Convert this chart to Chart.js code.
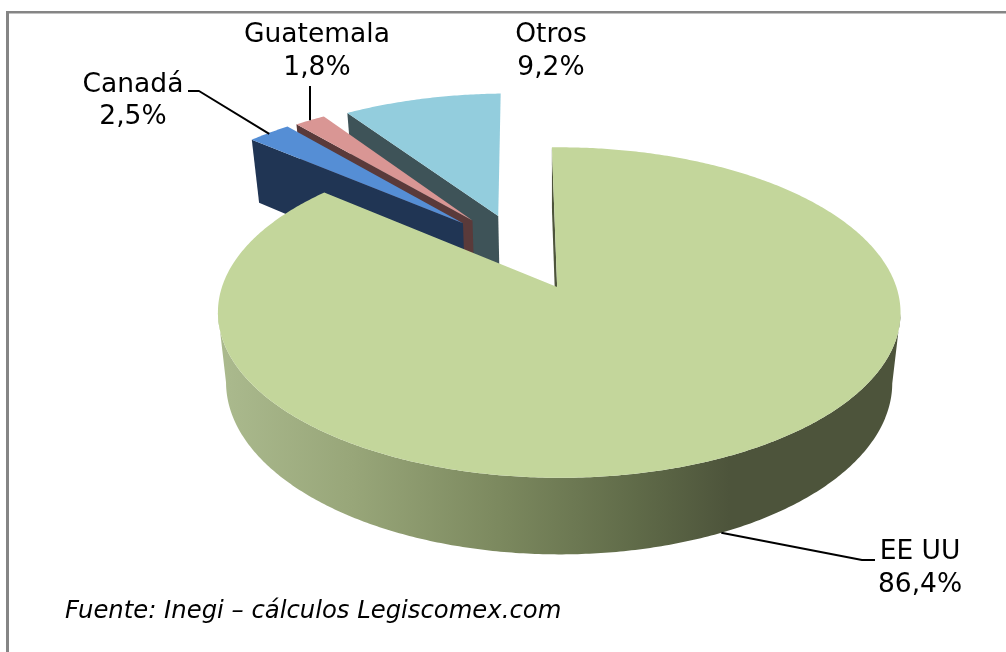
<!DOCTYPE html>
<html>
<head>
<meta charset="utf-8">
<style>html,body{margin:0;padding:0;background:#fff}canvas{display:block}</style>
<script src="https://cdn.jsdelivr.net/npm/chart.js@4"></script>
</head>
<body>
<canvas id="c" width="1006" height="652"></canvas>
<script>
const categories = ['EE UU', 'Canadá', 'Guatemala', 'Otros'];
const shares = [86.4, 2.5, 1.8, 9.2];
const shareLabels = ['86,4%', '2,5%', '1,8%', '9,2%'];
const sourceNote = 'Fuente: Inegi – cálculos Legiscomex.com';

const topColors = ['#C3D69B', '#558ED5', '#D99694', '#93CDDD'];
const wallColors = ['#4D543B', '#203554', '#5A3A3A', '#3E5358'];
const explosion = [26.5, 26, 25.5, 24.5];

// perspective of the tilted disc
const view = {cx: 556, cy: 288, a: 337.5, b: 161.6, p: 0.154, q: 0.006, cu: -0.11, cv: -0.245,
               sx: 0.976, sy: 1.04, depth: 69};
function project(U, V) {
  const u = U + view.cu, v = V + view.cv, w = 1 - view.p * v - view.q * u;
  return {x: view.cx + view.a * u / w, y: view.cy + view.b * v / w};
}
function drop(pt) {
  return {x: view.cx + (pt.x - view.cx) * view.sx,
          y: view.cy + view.depth + (pt.y - view.cy) * view.sy};
}
function slicePoints(el) {
  const off = el.options.offset / 100, mid = (el.startAngle + el.endAngle) / 2;
  const ox = off * Math.cos(mid), oy = off * Math.sin(mid);
  const n = Math.max(4, Math.ceil((el.endAngle - el.startAngle) / 0.01));
  const arc = [];
  for (let i = 0; i <= n; i++) {
    const t = el.startAngle + (el.endAngle - el.startAngle) * i / n;
    arc.push(project(ox + Math.cos(t), oy + Math.sin(t)));
  }
  return {apex: project(ox, oy), arc,
          midArc: project(ox + Math.cos(mid), oy + Math.sin(mid))};
}
function poly(ctx, pts, fill) {
  ctx.beginPath();
  pts.forEach((p, i) => i ? ctx.lineTo(p.x, p.y) : ctx.moveTo(p.x, p.y));
  ctx.closePath();
  ctx.fillStyle = fill;
  ctx.fill();
}
function wallQuad(ctx, a, b, fill) {
  poly(ctx, [a, b, drop(b), drop(a)], fill);
}
// front of the rim: the stretch of arc between its rightmost and leftmost points
function frontRim(arc) {
  let r = 0, l = 0;
  arc.forEach((p, i) => { if (p.x > arc[r].x) r = i; if (p.x < arc[l].x) l = i; });
  const seg = arc.slice(Math.min(r, l), Math.max(r, l) + 1);
  return [...seg, ...seg.map(drop).reverse()];
}

const pie3d = {
  id: 'pie3d',
  beforeDraw(chart) {
    const ctx = chart.ctx;
    ctx.save();
    ctx.fillStyle = '#fff';
    ctx.fillRect(0, 0, chart.width, chart.height);
    ctx.fillStyle = '#858585';
    ctx.fillRect(6, 11, 3, chart.height - 11);
    ctx.fillRect(6, 11, chart.width - 6, 2.5);
    ctx.restore();
  },
  beforeDatasetDraw() { return false; },
  afterDatasetsDraw(chart) {
    const ctx = chart.ctx, meta = chart.getDatasetMeta(0);
    const sliceInfo = meta.data.map(slicePoints);
    const grad = ctx.createLinearGradient(226, 0, 730, 0);
    grad.addColorStop(0, '#AAB98D');
    grad.addColorStop(0.25, '#98A679');
    grad.addColorStop(0.55, '#7B885E');
    grad.addColorStop(0.82, '#5F6A48');
    grad.addColorStop(1, '#4D543B');
    ctx.save();
    // back to front: Otros, Guatemala, Canadá, EE UU
    [3, 2, 1, 0].forEach(i => {
      const s = sliceInfo[i], el = meta.data[i];
      const wall = wallColors[i];
      wallQuad(ctx, s.apex, s.arc[0], wall);
      if (i === 0) poly(ctx, frontRim(s.arc), grad);
      poly(ctx, [s.apex, ...s.arc], el.options.backgroundColor);
    });
    // leader lines
    const a0 = drop(sliceInfo[0].midArc), a1 = sliceInfo[1].midArc, a2 = sliceInfo[2].midArc;
    ctx.strokeStyle = '#000';
    ctx.lineWidth = 2;
    ctx.lineJoin = 'round';
    [[a0, {x: 862, y: 560}, {x: 875, y: 560}],
     [{x: a1.x, y: a1.y + 1}, {x: 199, y: 91}, {x: 188, y: 91}],
     [a2, {x: a2.x, y: 86}]].forEach(line => {
      ctx.beginPath();
      line.forEach((p, i) => i ? ctx.lineTo(p.x, p.y) : ctx.moveTo(p.x, p.y));
      ctx.stroke();
    });
    // labels
    ctx.fillStyle = '#000';
    ctx.textAlign = 'center';
    ctx.textBaseline = 'alphabetic';
    ctx.font = '26.5px "DejaVu Sans"';
    const labelAt = [[920, 559, 592], [133, 92, 124], [317, 42, 75], [551, 42, 75]];
    categories.forEach((name, i) => {
      const [x, y1, y2] = labelAt[i];
      ctx.fillText(name, x, y1);
      ctx.fillText(shareLabels[i], x, y2);
    });
    ctx.textAlign = 'left';
    ctx.font = 'italic 24.3px "DejaVu Sans"';
    ctx.fillText(sourceNote, 65, 618);
    ctx.restore();
  }
};

new Chart(document.getElementById('c'), {
  type: 'pie',
  data: {
    labels: categories,
    datasets: [{data: shares, backgroundColor: topColors, borderWidth: 0, offset: explosion}]
  },
  options: {
    responsive: false,
    animation: false,
    rotation: -1,
    plugins: {legend: {display: false}, tooltip: {enabled: false}}
  },
  plugins: [pie3d]
});
</script>
</body>
</html>
